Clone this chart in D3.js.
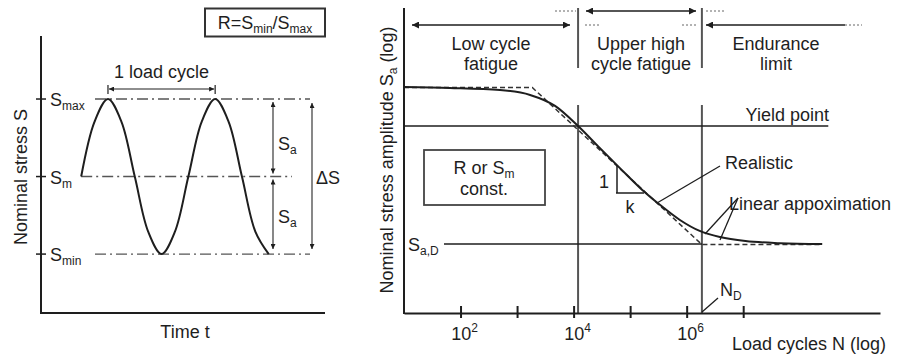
<!DOCTYPE html>
<html>
<head>
<meta charset="utf-8">
<script src="https://cdn.jsdelivr.net/npm/d3@7"></script>
<style>
  body { margin: 0; background: #fff; }
  svg text { font-family: "Liberation Sans", Arial, sans-serif; font-size: 18px; fill: #1e1e1e; }
</style>
</head>
<body>
<svg id="chart" width="900" height="358"></svg>
<script>
// ---- left panel: load cycle (Sm = 0, Sa = 1) ----
const levelNames = ["max", "m", "min"];
const levelValues = [1, 0, -1];
// points along the wave, t in load cycles
const waveT = [0.375, 0.5, 0.625, 0.75, 0.875, 1, 1.125, 1.25, 1.375, 1.5, 1.625, 1.75, 1.875, 2, 2.125];
const waveS = [0, 0.71, 1, 0.71, 0, -0.71, -1, -0.71, 0, 0.71, 1, 0.71, 0, -0.71, -1];

// ---- right panel: S-N curve ----
const realisticN = [1e1, 6.5e1, 5e2, 1.7e3, 4.7e3, 1.2e4, 2.9e4, 6.6e4, 1.5e5, 3.4e5, 7.6e5, 1.7e6, 3.9e6, 1.1e7, 4.5e7, 2.5e8];
const realisticSa = [74.1, 73.8, 73.1, 71.5, 67.9, 61.3, 54.1, 47.5, 41.0, 35.4, 30.5, 26.9, 24.9, 23.6, 22.9, 22.6];
const linearN = [1e1, 1.86e3, 1.86e6, 2.5e8];
const linearSa = [74.1, 74.1, 22.6, 22.6];
const yieldSa = 61.3;
const enduranceSa = 22.6;
const boundaryN = [1.2e4, 1.86e6];   // end of LCF, N_D
const tickExp = [2, 3, 4, 5, 6, 7];
const labelExp = [2, 4, 6];

const svg = d3.select("#chart");
const ink = "#1e1e1e";
const grey = "#555";

const defs = svg.append("defs");
function marker(id, w, h) {
  defs.append("marker")
    .attr("id", id)
    .attr("viewBox", "0 0 10 10")
    .attr("refX", 10).attr("refY", 5)
    .attr("markerWidth", w).attr("markerHeight", h)
    .attr("markerUnits", "userSpaceOnUse")
    .attr("orient", "auto-start-reverse")
    .append("path").attr("d", "M0,0L10,5L0,10Z").attr("fill", ink);
}
marker("ah", 10, 7);
marker("ahs", 7, 5);

function line(g, x1, y1, x2, y2, opts = {}) {
  const l = g.append("line")
    .attr("x1", x1).attr("y1", y1).attr("x2", x2).attr("y2", y2)
    .attr("stroke", opts.color || ink)
    .attr("stroke-width", opts.width || 1.5);
  if (opts.dash) l.attr("stroke-dasharray", opts.dash);
  if (opts.start) l.attr("marker-start", `url(#${opts.start})`);
  if (opts.end) l.attr("marker-end", `url(#${opts.end})`);
  return l;
}

// text with a subscript part, e.g. S + "max"
function subText(g, x, y, main, sub, anchor = "start", rest = "") {
  const t = g.append("text").attr("x", x).attr("y", y).attr("text-anchor", anchor);
  t.append("tspan").text(main);
  t.append("tspan").attr("dy", 4).style("font-size", "12px").text(sub);
  if (rest) t.append("tspan").attr("dy", -4).text(rest);
  return t;
}

// ================= left panel =================
const left = svg.append("g");
const xt = d3.scaleLinear().domain([0, 2.65]).range([41, 325]);
const ys = d3.scaleLinear().domain([-1.76, 1.8]).range([313, 37]);

line(left, 41, 36, 41, 314, { width: 2 });
line(left, 40, 313, 325, 313, { width: 2 });

const dashDot = "11,4,2,4";
levelValues.forEach((s, i) => {
  const y = ys(s);
  line(left, 36, y, 46, y, { width: 1.5 });
  const x0 = s === 0 ? xt(waveT[0]) : 95;
  const x1 = s === 0 ? 292 : 310;
  line(left, x0, y, x1, y, { color: grey, width: 1.4, dash: dashDot });
  subText(left, 50, y + 7, "S", levelNames[i]);
});

left.append("path")
  .datum(waveT.map((t, i) => [t, waveS[i]]))
  .attr("d", d3.line().x(d => xt(d[0])).y(d => ys(d[1])).curve(d3.curveCatmullRom))
  .attr("fill", "none").attr("stroke", ink).attr("stroke-width", 2);

// 1 load cycle
const c0 = xt(0.625), c1 = xt(1.625);
left.append("text").attr("x", (c0 + c1) / 2).attr("y", 78).attr("text-anchor", "middle").text("1 load cycle");
line(left, c0 + 1, 89, c1 - 1, 89, { width: 1.2, start: "ahs", end: "ahs" });
line(left, c0, 85, c0, 94, { width: 1.2 });
line(left, c1, 85, c1, 94, { width: 1.2 });

// Sa / delta S
const ax = 273;
line(left, ax, ys(1) + 3, ax, ys(0) - 3, { color: grey, width: 1.4, start: "ahs", end: "ahs" });
line(left, ax, ys(0) + 3, ax, ys(-1) - 5, { color: grey, width: 1.4, start: "ahs", end: "ahs" });
line(left, 312, ys(1) + 4, 312, ys(-1) - 5, { color: grey, width: 1.4, start: "ahs", end: "ahs" });
subText(left, 278, 150, "S", "a");
subText(left, 278, 223, "S", "a");
left.append("text").attr("x", 316).attr("y", 184).text("\u0394S");

left.append("text").attr("x", 185).attr("y", 338).attr("text-anchor", "middle").text("Time t");
left.append("text")
  .attr("transform", "translate(27,177) rotate(-90)")
  .attr("text-anchor", "middle").text("Nominal stress S");

// R box
left.append("rect").attr("x", 205).attr("y", 8.5).attr("width", 120).attr("height", 28)
  .attr("fill", "none").attr("stroke", "#333").attr("stroke-width", 2);
const rt = left.append("text").attr("x", 265).attr("y", 29).attr("text-anchor", "middle");
rt.append("tspan").text("R=S");
rt.append("tspan").attr("dy", 4).style("font-size", "12px").text("min");
rt.append("tspan").attr("dy", -4).text("/S");
rt.append("tspan").attr("dy", 4).style("font-size", "12px").text("max");

// ================= right panel =================
const right = svg.append("g");
const xN = d3.scaleLog().domain([10, Math.pow(10, 9.42)]).range([404, 880]);
const yV = d3.scaleLinear().domain([0, 100]).range([313, 8]);

// boundaries (vertical lines, broken under the region labels)
boundaryN.forEach(n => {
  const x = xN(n);
  line(right, x, yV(100), x, 68, { color: grey, width: 2 });
  line(right, x, 105, x, yV(0), { color: grey, width: 2 });
});

// x axis
const axis = right.append("g").attr("transform", `translate(0,${yV(0)})`)
  .call(d3.axisBottom(xN).tickValues(tickExp.map(e => Math.pow(10, e))).tickSizeOuter(0).tickSizeInner(5).tickFormat(""));
axis.select(".domain").attr("stroke", ink).attr("stroke-width", 2);
axis.selectAll(".tick line").attr("y1", -7).attr("y2", 5).attr("stroke", ink).attr("stroke-width", 2);
labelExp.forEach(e => {
  const t = right.append("text").attr("x", xN(Math.pow(10, e)) + 4).attr("y", 340).attr("text-anchor", "middle");
  t.append("tspan").text("10");
  t.append("tspan").attr("dy", -8).style("font-size", "12px").text(e);
});
line(right, xN(10), yV(100), xN(10), yV(0) + 1, { width: 2 });

// yield point and endurance
line(right, xN(10), yV(yieldSa), xN(3.2e8), yV(yieldSa), { width: 1.5 });
line(right, xN(51), yV(enduranceSa), xN(boundaryN[1]), yV(enduranceSa), { width: 1.5 });

// linear approximation (dashed)
right.append("path")
  .datum(linearN.map((n, i) => [n, linearSa[i]]))
  .attr("d", d3.line().x(d => xN(d[0])).y(d => yV(d[1]) + 0.5))
  .attr("fill", "none").attr("stroke", "#333").attr("stroke-width", 1.5).attr("stroke-dasharray", "5,3");

// realistic curve
right.append("path")
  .datum(realisticN.map((n, i) => [n, realisticSa[i]]))
  .attr("d", d3.line().x(d => xN(d[0])).y(d => yV(d[1])).curve(d3.curveMonotoneX))
  .attr("fill", "none").attr("stroke", ink).attr("stroke-width", 2);

// slope triangle
const tx0 = xN(2.9e4 * 1.1), tx1 = xN(1.5e5 * 0.88);
line(right, 617, 165, 617, 193, { width: 1.5 });
line(right, 616, 193, 644, 193, { width: 1.5 });
right.append("text").attr("x", 604).attr("y", 188).attr("text-anchor", "middle").text("1");
right.append("text").attr("x", 630).attr("y", 213).attr("text-anchor", "middle").text("k");

// region arrows
line(right, 412, 25, 570, 25, { width: 1.5, start: "ah", end: "ah" });
line(right, 586, 11, 696, 11, { width: 1.5, start: "ah", end: "ah" });
line(right, 706, 25, 845, 25, { width: 1.5, start: "ah" });
const dots = "2,2";
line(right, 555, 11, 576, 11, { color: "#666", width: 1, dash: dots });
line(right, 585, 25, 600, 25, { color: "#666", width: 1, dash: dots });
line(right, 682, 25, 698, 25, { color: "#666", width: 1, dash: dots });
line(right, 706, 11, 726, 11, { color: "#666", width: 1, dash: dots });
line(right, 845, 25, 862, 25, { color: "#666", width: 1, dash: dots });

[["Low cycle", "fatigue", 491], ["Upper high", "cycle fatigue", 641], ["Endurance", "limit", 776]].forEach(([a, b, x]) => {
  right.append("text").attr("x", x).attr("y", 50).attr("text-anchor", "middle").text(a);
  right.append("text").attr("x", x).attr("y", 70).attr("text-anchor", "middle").text(b);
});

right.append("text").attr("x", 829).attr("y", 121).attr("text-anchor", "end").text("Yield point");

// R or Sm box
right.append("rect").attr("x", 424).attr("y", 150).attr("width", 121).attr("height", 55)
  .attr("fill", "none").attr("stroke", "#444").attr("stroke-width", 1.8);
subText(right, 484, 174, "R or S", "m", "middle");
right.append("text").attr("x", 484).attr("y", 195).attr("text-anchor", "middle").text("const.");

// annotations
right.append("text").attr("x", 725).attr("y", 169).text("Realistic");
line(right, 657, 203, 720, 166, { width: 1.3 });
right.append("text").attr("x", 729).attr("y", 210).text("Linear appoximation");
line(right, 738, 198, 705, 234, { width: 1.3 });
line(right, 738, 198, 720, 240, { width: 1.3 });
subText(right, 408, 251, "S", "a,D");
subText(right, 720, 296, "N", "D");
line(right, 718, 298, 702, 312, { width: 1.3 });

right.append("text").attr("x", 886).attr("y", 350).attr("text-anchor", "end").text("Load cycles N (log)");
const yl = right.append("text").attr("transform", "translate(393,160) rotate(-90)").attr("text-anchor", "middle");
yl.append("tspan").text("Nominal stress amplitude S");
yl.append("tspan").attr("dy", 4).style("font-size", "12px").text("a");
yl.append("tspan").attr("dy", -4).text(" (log)");
</script>
</body>
</html>
